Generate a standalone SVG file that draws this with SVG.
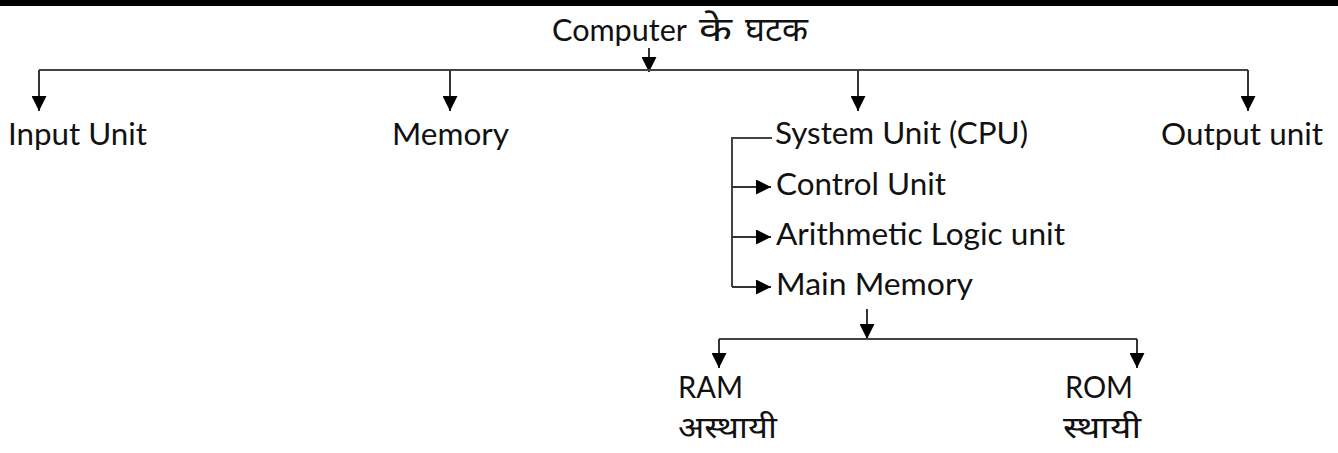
<svg xmlns="http://www.w3.org/2000/svg" width="1338" height="453" viewBox="0 0 1338 453">
<defs>
<style>
.t{font-family:Lato,"Open Sans","Liberation Sans",sans-serif;font-size:31px;fill:#111;}
.h{font-family:"Noto Sans Devanagari","Lohit Devanagari","Noto Sans","Liberation Sans",sans-serif;font-size:34px;fill:#111;}
.hs{font-family:"Noto Sans Devanagari","Lohit Devanagari","Noto Sans","Liberation Sans",sans-serif;font-size:31px;fill:#111;}
.ln{stroke:#444;stroke-width:2;fill:none;}
.ar{stroke:#333;stroke-width:2;fill:none;marker-end:url(#ah);}
</style>
<marker id="ah" markerWidth="15" markerHeight="15" refX="15" refY="7.5" orient="auto" markerUnits="userSpaceOnUse">
<path d="M0,0 L15,7.5 L0,15 z" fill="#000"/>
</marker>
</defs>
<rect x="0" y="0" width="1338" height="453" fill="#fff"/>
<rect x="0" y="0" width="1338" height="6" fill="#000"/>

<g id="connectors">
<path class="ar" d="M649,48 V72"/>
<path class="ln" d="M39,70 H1248"/>
<path class="ar" d="M39,70 V111"/>
<path class="ar" d="M450,70 V111"/>
<path class="ar" d="M858,70 V111"/>
<path class="ar" d="M1248,70 V111"/>
<path class="ln" d="M772,138 H732 V287"/>
<path class="ar" d="M732,187 H771"/>
<path class="ar" d="M732,237 H771"/>
<path class="ar" d="M732,287 H771"/>
<path class="ar" d="M867,309 V339"/>
<path class="ln" d="M719,339 H1137"/>
<path class="ar" d="M719,339 V368"/>
<path class="ar" d="M1137,339 V368"/>
</g>

<g id="root">
<text class="t" x="552" y="41" textLength="135" lengthAdjust="spacingAndGlyphs">Computer</text>
<text class="h" x="699" y="41" textLength="33" lengthAdjust="spacingAndGlyphs">के</text>
<text class="h" x="745" y="41" textLength="63" lengthAdjust="spacingAndGlyphs">घटक</text>
</g>
<g id="input"><text class="t" x="8" y="145" textLength="139" lengthAdjust="spacingAndGlyphs">Input Unit</text></g>
<g id="memory"><text class="t" x="392" y="145" textLength="117" lengthAdjust="spacingAndGlyphs">Memory</text></g>
<g id="cpu"><text class="t" x="775" y="144" textLength="253" lengthAdjust="spacingAndGlyphs">System Unit (CPU)</text></g>
<g id="output"><text class="t" x="1161" y="145" textLength="162" lengthAdjust="spacingAndGlyphs">Output unit</text></g>
<g id="control"><text class="t" x="776" y="195" textLength="170" lengthAdjust="spacingAndGlyphs">Control Unit</text></g>
<g id="alu"><text class="t" x="776" y="245" textLength="289" lengthAdjust="spacingAndGlyphs">Arithmetic Logic unit</text></g>
<g id="mainmem"><text class="t" x="776" y="295" textLength="197" lengthAdjust="spacingAndGlyphs">Main Memory</text></g>
<g id="ram">
<text class="t" x="678" y="398" textLength="65" lengthAdjust="spacingAndGlyphs">RAM</text>
<text class="hs" x="678" y="438" textLength="99" lengthAdjust="spacingAndGlyphs">अस्थायी</text>
</g>
<g id="rom">
<text class="t" x="1065" y="398" textLength="68" lengthAdjust="spacingAndGlyphs">ROM</text>
<text class="hs" x="1063" y="438" textLength="78" lengthAdjust="spacingAndGlyphs">स्थायी</text>
</g>
</svg>
